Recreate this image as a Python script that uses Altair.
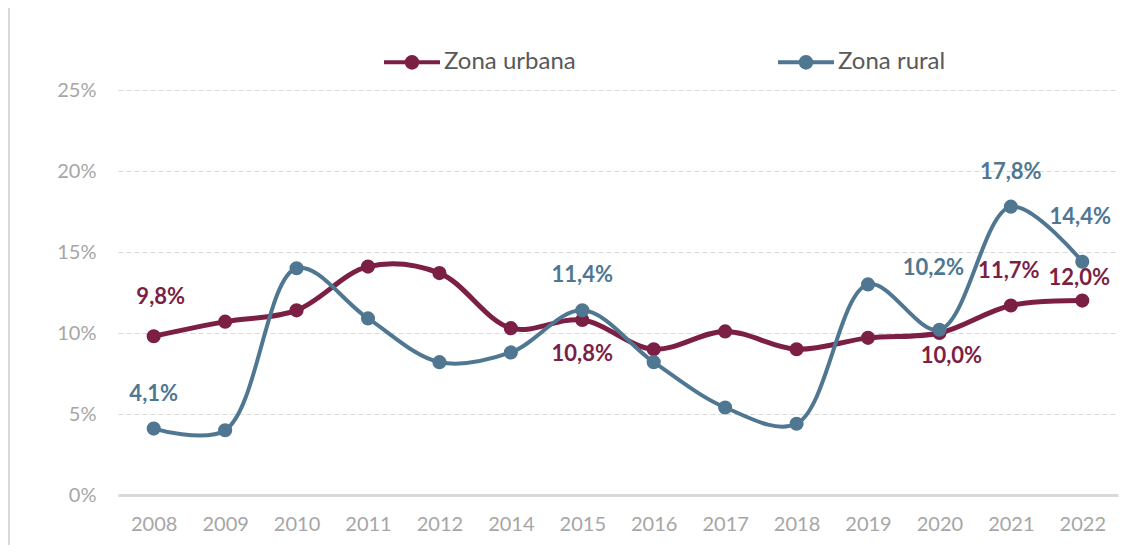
import altair as alt
import pandas as pd

years = ["2008", "2009", "2010", "2011", "2012", "2014", "2015", "2016",
         "2017", "2018", "2019", "2020", "2021", "2022"]
urbana = [9.8, 10.7, 11.4, 14.1, 13.7, 10.3, 10.8, 9.0, 10.1, 9.0, 9.7, 10.0, 11.7, 12.0]
rural = [4.1, 4.0, 14.0, 10.9, 8.2, 8.8, 11.4, 8.2, 5.4, 4.4, 13.0, 10.2, 17.8, 14.4]
series_names = ["Zona urbana", "Zona rural"]
series_colors = ["#7C1F45", "#4F7792"]
y_ticks = [0, 5, 10, 15, 20, 25]

rows = []
for yr, u, r in zip(years, urbana, rural):
    rows.append({"year": yr, "serie": series_names[0], "v": u})
    rows.append({"year": yr, "serie": series_names[1], "v": r})
df = pd.DataFrame(rows)

FONT = "Lato"
color_scale = alt.Scale(domain=series_names, range=series_colors)

x_enc = alt.X("year:O", sort=years, title=None,
              scale=alt.Scale(type="point", padding=0.5),
              axis=alt.Axis(labelFontSize=20, labelColor="#A6A6A6", labelFont=FONT,
                            labelAngle=0, labelPadding=19, ticks=False,
                            domainColor="#D9D9D9", domainWidth=3, grid=False))
y_enc = alt.Y("v:Q", title=None,
              scale=alt.Scale(domain=[0, 25], nice=False),
              axis=alt.Axis(values=y_ticks, labelExpr="datum.value + '%'",
                            labelFontSize=20, labelColor="#A6A6A6", labelFont=FONT,
                            labelPadding=22, ticks=False, domain=False,
                            grid=True, gridColor="#D9D9D9", gridDash=[5, 3],
                            gridWidth=1.2))

base = alt.Chart(df).transform_calculate(
    lbl="replace(format(datum.v, '.1f'), '.', ',') + '%'"
)

legend_path = ("M-1,0L1,0M0.19,0A0.19,0.19,0,1,1,-0.19,0"
               "A0.19,0.19,0,1,1,0.19,0")
legend = alt.Legend(title=None, orient="none", direction="horizontal",
                    legendX=264, legendY=-58, symbolType=legend_path,
                    symbolSize=3136, symbolStrokeWidth=4, labelFont=FONT,
                    labelFontSize=24, labelColor="#595959", labelOffset=2,
                    columnPadding=194)


def series_layers(name, width):
    sub = base.transform_filter(alt.datum.serie == name)
    line = sub.mark_line(interpolate="catmull-rom", strokeWidth=width,
                         strokeCap="round").encode(
        x=x_enc, y=y_enc,
        stroke=alt.Stroke("serie:N", scale=color_scale, legend=legend))
    pts = sub.mark_point(filled=True, size=200, opacity=1, strokeWidth=0).encode(
        x=x_enc, y=y_enc,
        fill=alt.Fill("serie:N", scale=color_scale, legend=legend))
    return line, pts


def label(name, yr, dx, dy):
    return base.transform_filter(
        (alt.datum.serie == name) & (alt.datum.year == yr)
    ).mark_text(font=FONT, fontSize=22, fontWeight="bold", dx=dx, dy=dy,
                color=series_colors[series_names.index(name)]).encode(
        x=x_enc, y=y_enc, text="lbl:N")


u_line, u_pts = series_layers(series_names[0], 5)
r_line, r_pts = series_layers(series_names[1], 4)

labels = [
    label(series_names[0], "2008", 7, -39),
    label(series_names[0], "2015", 0, 34),
    label(series_names[0], "2020", 12, 23),
    label(series_names[0], "2021", -2, -34),
    label(series_names[0], "2022", -3, -23),
    label(series_names[1], "2008", 0, -35),
    label(series_names[1], "2015", 0, -35),
    label(series_names[1], "2020", -6, -62),
    label(series_names[1], "2021", 0, -35),
    label(series_names[1], "2022", -2, -45),
]

frame = alt.Chart(pd.DataFrame({"k": [0]})).mark_rule(
    color="#D9D9D9", strokeWidth=2).encode(
    x=alt.value(-109), y=alt.value(-90), y2=alt.value(470))

chart = alt.layer(frame, u_line, u_pts, r_line, r_pts, *labels).properties(
    width=1000, height=405,
    background="white",
    autosize=alt.AutoSizeParams(type="none"),
    padding={"left": 110, "top": 82, "right": 15, "bottom": 50},
).configure_view(
    stroke="transparent", strokeWidth=0
)

chart.save("out.html", embed_options={"renderer": "svg", "actions": False})
